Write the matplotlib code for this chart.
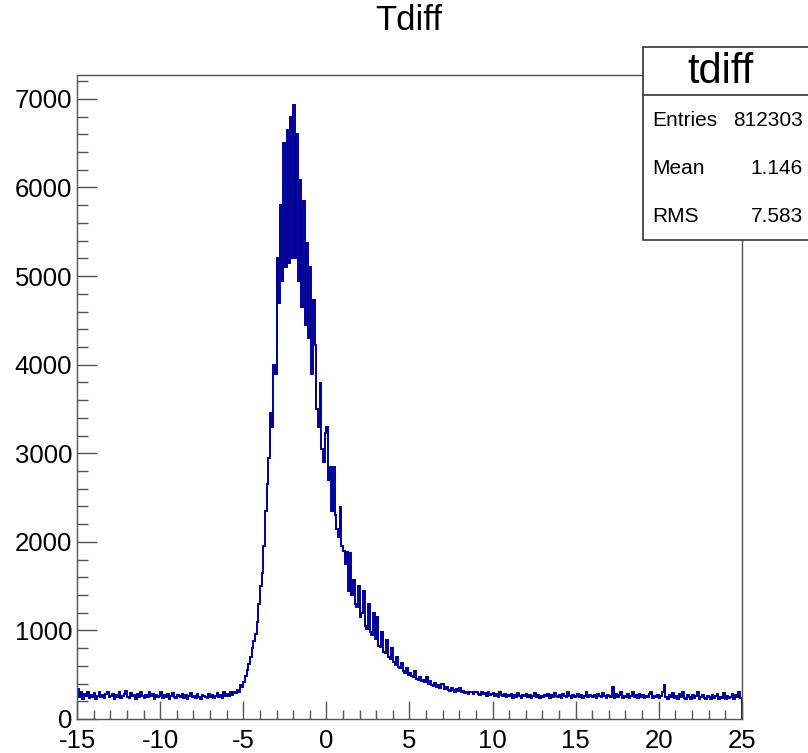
import numpy as np
import matplotlib
matplotlib.use("Agg")
import matplotlib.pyplot as plt
from matplotlib.patches import Rectangle
from matplotlib.lines import Line2D

plt.rcParams['font.family'] = ['Liberation Sans', 'DejaVu Sans']
plt.rcParams['axes.unicode_minus'] = False

# --- histogram contents (bins 0.1 wide, -15 .. 25) ---
x_min, x_max = -15, 25
counts = [
    340, 250, 300, 230, 280, 260, 310, 240, 270, 250,   # -15
    290, 230, 260, 300, 250, 270, 240, 280, 310, 250,   # -14
    260, 280, 230, 270, 250, 300, 240, 260, 280, 320,   # -13
    250, 240, 290, 260, 270, 230, 280, 250, 300, 260,   # -12
    240, 270, 250, 310, 260, 280, 230, 270, 250, 260,   # -11
    300, 240, 270, 250, 280, 230, 260, 290, 250, 240,   # -10
    270, 260, 250, 280, 240, 270, 230, 260, 290, 250,   # -9
    260, 240, 280, 250, 230, 270, 260, 250, 240, 280,   # -8
    250, 270, 240, 260, 290, 250, 270, 240, 300, 260,   # -7
    280, 260, 300, 270, 310, 290, 330, 310, 380, 360,   # -6
    420, 480, 550, 620, 700, 800, 880, 960, 1100, 1300,  # -5
    1500, 1650, 1950, 2350, 2650, 2950, 3450, 3300, 4000, 3900,  # -4
    5200, 4700, 5800, 4950, 6500, 5100, 6650, 5150, 6800, 5200,  # -3
    6930, 5200, 6600, 4950, 6080, 4650, 5850, 4450, 5370, 4300,  # -2
    5100, 3900, 4730, 4220, 3500, 3300, 3790, 3050, 2900, 3230,  # -1
    3300, 2700, 2850, 2350, 2850, 2300, 2150, 2050, 2390, 1950,  # 0
    1900, 1750, 1880, 1450, 1870, 1400, 1570, 1300, 1260, 1500,  # 1
    1150, 1200, 1450, 1050, 1020, 1300, 980, 950, 1200, 900,     # 2
    1150, 820, 810, 980, 760, 740, 890, 700, 680, 800,           # 3
    640, 610, 700, 590, 570, 630, 540, 520, 580, 500,   # 4
    520, 480, 470, 540, 450, 440, 470, 430, 440, 420,   # 5
    470, 400, 430, 380, 370, 410, 360, 380, 350, 390,   # 6
    400, 340, 360, 330, 320, 350, 330, 310, 340, 320,   # 7
    350, 300, 320, 290, 310, 280, 310, 300, 280, 300,   # 8
    310, 280, 270, 300, 280, 290, 260, 300, 270, 280,   # 9
    290, 260, 280, 250, 300, 270, 260, 280, 250, 270,   # 10
    260, 280, 240, 270, 250, 290, 260, 240, 270, 260,   # 11
    280, 250, 270, 240, 260, 290, 250, 270, 240, 260,   # 12
    250, 270, 260, 280, 240, 270, 250, 290, 260, 250,   # 13
    270, 240, 280, 260, 250, 300, 260, 240, 270, 250,   # 14
    260, 280, 250, 270, 240, 260, 300, 250, 270, 260,   # 15
    250, 270, 240, 280, 260, 250, 290, 260, 240, 270,   # 16
    260, 250, 360, 240, 280, 250, 270, 300, 240, 260,   # 17
    250, 280, 240, 260, 300, 250, 270, 240, 280, 250,   # 18
    270, 240, 260, 250, 280, 310, 240, 260, 250, 270,   # 19
    240, 260, 300, 380, 250, 230, 270, 250, 290, 240,   # 20
    260, 230, 280, 250, 310, 240, 230, 270, 250, 220,   # 21
    270, 240, 260, 300, 230, 250, 270, 240, 220, 260,   # 22
    250, 230, 270, 240, 260, 280, 230, 250, 240, 290,   # 23
    230, 260, 240, 250, 280, 220, 270, 250, 300, 240,   # 24
]
edges = np.linspace(x_min, x_max, len(counts) + 1)

hist_name = "tdiff"
hist_title = "Tdiff"
stat_labels = ["Entries", "Mean", "RMS"]
stat_values = ["812303", "1.146", "7.583"]

# --- figure ---
fig = plt.figure(figsize=(8.08, 7.53), dpi=100)
ax = fig.add_axes([0.0955, 0.0452, 0.8225, 0.8552])

ax.stairs(counts, edges, color='#000099', linewidth=1.4)
ax.set_xlim(x_min, x_max)
ax.set_ylim(0, 7270)

ax.set_xticks(np.arange(-15, 26, 5))
ax.set_xticks(np.arange(-15, 26, 1), minor=True)
ax.set_yticks(np.arange(0, 7001, 1000))
ax.set_yticks(np.arange(0, 7201, 200), minor=True)

ax.tick_params(axis='both', which='both', direction='in', top=False, right=False,
               labelsize=18.5, colors='#555555', labelcolor='black', width=1)
ax.tick_params(axis='y', which='major', length=14.5, pad=3.5)
ax.tick_params(axis='y', which='minor', length=8)
ax.tick_params(axis='x', which='major', length=13, pad=7)
ax.tick_params(axis='x', which='minor', length=6.5)
for s in ax.spines.values():
    s.set_color('#555555')
    s.set_linewidth(1)

fig.text(0.506, 1 - 21 / 753, hist_title, ha='center', va='center', fontsize=25)

# --- stats box ---
bx0, bx1 = 643 / 808, 1.02
by_top, by_div, by_bot = 1 - 47 / 753, 1 - 95 / 753, 1 - 240 / 753
fig.patches.append(Rectangle((bx0, by_bot), bx1 - bx0, by_top - by_bot,
                             transform=fig.transFigure, facecolor='white',
                             edgecolor='#333333', linewidth=1.2, zorder=10))
fig.lines.append(Line2D([bx0, bx1], [by_div, by_div], transform=fig.transFigure,
                        color='#333333', linewidth=1.2, zorder=11))
fig.text(720 / 808, 1 - 72 / 753, hist_name, ha='center', va='center',
         fontsize=30, zorder=12)
for k, (lab, val) in enumerate(zip(stat_labels, stat_values)):
    yy = 1 - (120 + 48.5 * k) / 753
    fig.text(652 / 808, yy, lab, ha='left', va='center', fontsize=15, zorder=12)
    fig.text(803 / 808, yy, val, ha='right', va='center', fontsize=15, zorder=12)

fig.savefig('out.png', dpi=100)
